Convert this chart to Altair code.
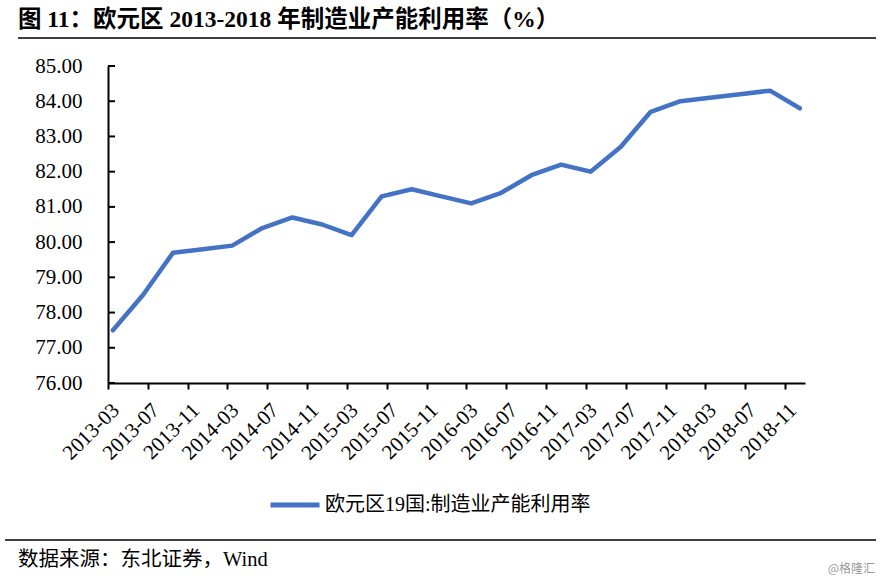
import altair as alt
import pandas as pd

# ---- data ----
months = ["2013-03", "2013-06", "2013-09", "2013-12",
          "2014-03", "2014-06", "2014-09", "2014-12",
          "2015-03", "2015-06", "2015-09", "2015-12",
          "2016-03", "2016-06", "2016-09", "2016-12",
          "2017-03", "2017-06", "2017-09", "2017-12",
          "2018-03", "2018-06", "2018-09", "2018-12"]
values = [77.5, 78.5, 79.7, 79.8,
          79.9, 80.4, 80.7, 80.5,
          80.2, 81.3, 81.5, 81.3,
          81.1, 81.4, 81.9, 82.2,
          82.0, 82.7, 83.7, 84.0,
          84.1, 84.2, 84.3, 83.8]
tick_labels = ["2013-03", "2013-07", "2013-11", "2014-03", "2014-07", "2014-11",
               "2015-03", "2015-07", "2015-11", "2016-03", "2016-07", "2016-11",
               "2017-03", "2017-07", "2017-11", "2018-03", "2018-07", "2018-11"]
y_ticks = [76, 77, 78, 79, 80, 81, 82, 83, 84, 85]
axis_start, axis_end = "2013-03", "2019-01"
series_name = "欧元区19国:制造业产能利用率"
title_text = "图 11：欧元区 2013-2018 年制造业产能利用率（%）"
source_text = "数据来源：东北证券，Wind"
watermark_text = "@格隆汇"

SERIF = "Liberation Serif, Noto Sans CJK SC"
BLUE = "#4472C4"


def ms(ym):
    return int(pd.Timestamp(ym + "-01", tz="UTC").timestamp() * 1000)


# points sit in the middle of their month (date-axis style)
df = pd.DataFrame({
    "date": [(pd.Timestamp(m + "-01") + pd.Timedelta(days=15)).strftime("%Y-%m-%d") for m in months],
    "value": values,
    "series": [series_name] * len(months),
})
ticks_df = pd.DataFrame({"value": y_ticks})

x_scale = alt.Scale(type="utc", domain=[ms(axis_start), ms(axis_end)], nice=False)
y_scale = alt.Scale(domain=[y_ticks[0], y_ticks[-1]], nice=False, zero=False)

x_axis = alt.Axis(values=[ms(t) for t in tick_labels],
                  labelExpr="utcFormat(datum.value, '%Y-%m')",
                  labelAngle=-45, title=None, grid=False,
                  domainColor="black", domainWidth=2, tickColor="black", tickWidth=2,
                  tickSize=6, labelFont=SERIF, labelFontSize=21, labelColor="black",
                  labelPadding=10, labelOverlap=False, labelFlush=False)
y_axis = alt.Axis(values=y_ticks, format=".2f", title=None, grid=False, ticks=False,
                  domainColor="black", domainWidth=2, labelFont=SERIF, labelFontSize=21,
                  labelColor="black", labelPadding=26)

line = alt.Chart(df).mark_line(strokeWidth=4.5, strokeCap="round", strokeJoin="round").encode(
    x=alt.X("date:T", scale=x_scale, axis=x_axis),
    y=alt.Y("value:Q", scale=y_scale, axis=y_axis),
    color=alt.Color("series:N", scale=alt.Scale(range=[BLUE]),
                    legend=alt.Legend(title=None, orient="none", legendX=160, legendY=412,
                                      symbolType="stroke", symbolSize=2401, symbolStrokeWidth=5,
                                      labelFont=SERIF, labelFontSize=20, labelColor="black",
                                      labelOffset=3, labelLimit=0, padding=0)),
)

# inward ticks on the y axis
y_tick_marks = alt.Chart(ticks_df).mark_rule(color="black", strokeWidth=2).encode(
    y=alt.Y("value:Q", scale=y_scale, axis=y_axis),
    x=alt.value(0),
    x2=alt.value(7),
)

title = alt.Chart(pd.DataFrame({"t": [title_text]})).mark_text(
    font=SERIF, fontSize=23.5, fontWeight="bold", align="left", baseline="middle", color="black"
).encode(text="t:N", x=alt.value(-90), y=alt.value(-46))

top_rule = alt.Chart(pd.DataFrame({"t": [0]})).mark_rule(color="black", strokeWidth=1.5).encode(
    x=alt.value(-90), x2=alt.value(768), y=alt.value(-28))

bottom_rule = alt.Chart(pd.DataFrame({"t": [0]})).mark_rule(color="black", strokeWidth=1.5).encode(
    x=alt.value(-103), x2=alt.value(768), y=alt.value(474))

source = alt.Chart(pd.DataFrame({"t": [source_text]})).mark_text(
    font=SERIF, fontSize=20.5, align="left", baseline="middle", color="black"
).encode(text="t:N", x=alt.value(-90), y=alt.value(494))

watermark = alt.Chart(pd.DataFrame({"t": [watermark_text]})).mark_text(
    font="Noto Sans CJK SC", fontSize=12, align="right", baseline="middle", color="#9a9a9a"
).encode(text="t:N", x=alt.value(767), y=alt.value(503))

chart = alt.layer(line, y_tick_marks, title, top_rule, bottom_rule, source, watermark).properties(
    width=697, height=317,
    padding={"left": 108, "top": 66, "right": 78, "bottom": 200},
    autosize=alt.AutoSizeParams(type="none"),
    background="white",
).configure_view(stroke=None)

chart.save("out.html", embed_options={"renderer": "svg", "actions": False})
